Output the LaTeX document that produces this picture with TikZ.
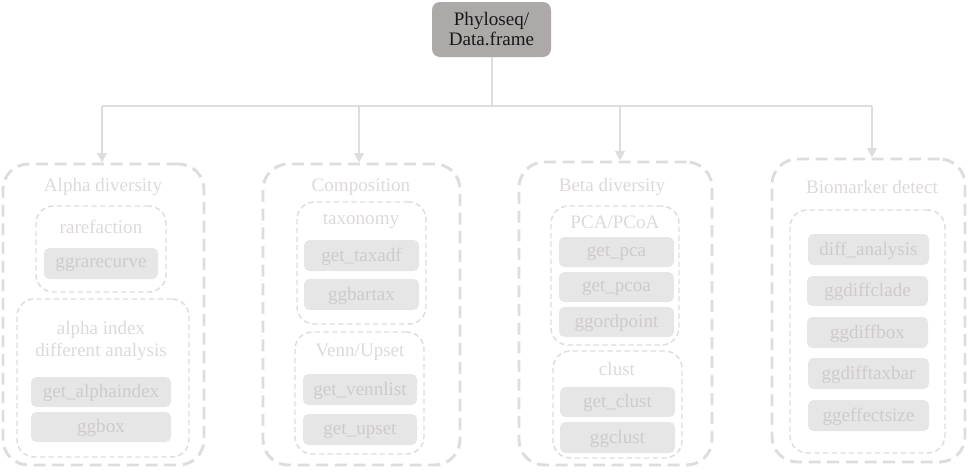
\documentclass[tikz,border=0pt]{standalone}
\usepackage{fontspec}
\setmainfont{Liberation Serif}
\usetikzlibrary{fit,arrows.meta}
\definecolor{topfill}{RGB}{173,169,169}
\definecolor{linec}{RGB}{221,221,221}
\definecolor{itemfill}{RGB}{230,230,230}
\definecolor{itemtext}{RGB}{208,203,203}
\definecolor{titletext}{RGB}{222,217,217}
\begin{document}
\begin{tikzpicture}[x=0.75pt,y=-0.75pt,
  every node/.style={font=\fontsize{14.3}{16}\selectfont},
  topbox/.style={fill=topfill, rounded corners=6pt, inner sep=0pt},
  outerbox/.style={draw=linec, line width=2.2pt, dash pattern=on 9pt off 5pt, rounded corners=19pt, inner sep=0pt},
  innerbox/.style={draw=linec, line width=1.1pt, dash pattern=on 4pt off 2.5pt, rounded corners=13pt, inner sep=0pt},
  item/.style={fill=itemfill, rounded corners=4pt, inner sep=0pt},
  itext/.style={text=itemtext, inner sep=0pt, yshift=-1pt},
  ttl/.style={text=titletext, inner sep=0pt, align=center},
  conn/.style={draw=linec, line width=2.2pt},
  arr/.style={conn, -{Triangle[length=7pt,width=7pt]}}
]
\useasboundingbox (0,0) rectangle (979,475);

% top node
\node[topbox, fit={(432,2) (551,57)}] (top) {};
\node[text=black!90, align=center, inner sep=0pt] (toptext) at (top.center) {Phyloseq/\\[-1pt]Data.frame};

% outer boxes
\node[outerbox, fit={(3,164) (204,465)}] (alpha) {};
\node[outerbox, fit={(263,164) (460,465)}] (comp) {};
\node[outerbox, fit={(519,162) (712,465)}] (beta) {};
\node[outerbox, fit={(772,159) (965,462)}] (bio) {};

\node[ttl] (alphat) at (103,187) {Alpha diversity};
\node[ttl] (compt) at (361,187) {Composition};
\node[ttl] (betat) at (612,187) {Beta diversity};
\node[ttl] (biot) at (872,187) {Biomarker detect};

% Alpha
\node[innerbox, fit={(36,206) (166,292)}] (rare) {};
\node[ttl] (raret) at (101,227) {rarefaction};
\node[item, fit={(44,248) (158,279)}] (rc) {};
\node[itext] at (rc.center) {ggrarecurve};
\node[innerbox, fit={(17,299) (189,457)}] (aidx) {};
\node[ttl] (aidxt) at (101,341) {alpha index\\[1pt]different analysis};
\node[item, fit={(31,377) (171,407)}] (gai) {};
\node[itext] at (gai.center) {get\_alphaindex};
\node[item, fit={(31,412) (171,442)}] (ggbox) {};
\node[itext] at (ggbox.center) {ggbox};

% Composition
\node[innerbox, fit={(297,202) (426,324)}] (tax) {};
\node[ttl] (taxt) at (361,221) {taxonomy};
\node[item, fit={(304,240) (419,271)}] (gtd) {};
\node[itext] at (gtd.center) {get\_taxadf};
\node[item, fit={(304,279) (419,310)}] (gbt) {};
\node[itext] at (gbt.center) {ggbartax};
\node[innerbox, fit={(295,332) (424,454)}] (venn) {};
\node[ttl] (vennt) at (360,352) {Venn/Upset};
\node[item, fit={(303,374) (417,405)}] (gvl) {};
\node[itext] at (gvl.center) {get\_vennlist};
\node[item, fit={(303,414) (417,445)}] (gup) {};
\node[itext] at (gup.center) {get\_upset};

% Beta
\node[innerbox, fit={(551,206) (679,345)}] (pca) {};
\node[ttl] (pcat) at (615,222) {PCA/PCoA};
\node[item, fit={(559,237) (674,267)}] (gpca) {};
\node[itext] at (gpca.center) {get\_pca};
\node[item, fit={(559,272) (674,302)}] (gpcoa) {};
\node[itext] at (gpcoa.center) {get\_pcoa};
\node[item, fit={(559,307) (674,337)}] (gord) {};
\node[itext] at (gord.center) {ggordpoint};
\node[innerbox, fit={(553,351) (682,458)}] (clust) {};
\node[ttl] (clustt) at (617,369) {clust};
\node[item, fit={(560,387) (675,417)}] (gcl) {};
\node[itext] at (gcl.center) {get\_clust};
\node[item, fit={(560,422) (675,453)}] (ggcl) {};
\node[itext] at (ggcl.center) {ggclust};

% Biomarker
\node[innerbox, fit={(790,210) (945,453)}] (bioin) {};
\node[item, fit={(808,234) (929,265)}] (da) {};
\node[itext] at (da.center) {diff\_analysis};
\node[item, fit={(807,276) (928,306)}] (gdc) {};
\node[itext] at (gdc.center) {ggdiffclade};
\node[item, fit={(807,317) (928,348)}] (gdb) {};
\node[itext] at (gdb.center) {ggdiffbox};
\node[item, fit={(808,358) (929,389)}] (gdt) {};
\node[itext] at (gdt.center) {ggdifftaxbar};
\node[item, fit={(808,400) (929,431)}] (ges) {};
\node[itext] at (ges.center) {ggeffectsize};

% connectors
\coordinate (bus) at (492,106);
\coordinate (bL) at (102,106);
\coordinate (bC) at (359,106);
\coordinate (bB) at (620,106);
\coordinate (bR) at (872,106);
\draw[conn] (top.south -| bus) -- (bus);
\draw[conn] (bL) -- (bR);
\draw[arr] (bL) -- (bL |- alpha.north);
\draw[arr] (bC) -- (bC |- comp.north);
\draw[arr] (bB) -- (bB |- beta.north);
\draw[arr] (bR) -- (bR |- bio.north);
\end{tikzpicture}
\end{document}
